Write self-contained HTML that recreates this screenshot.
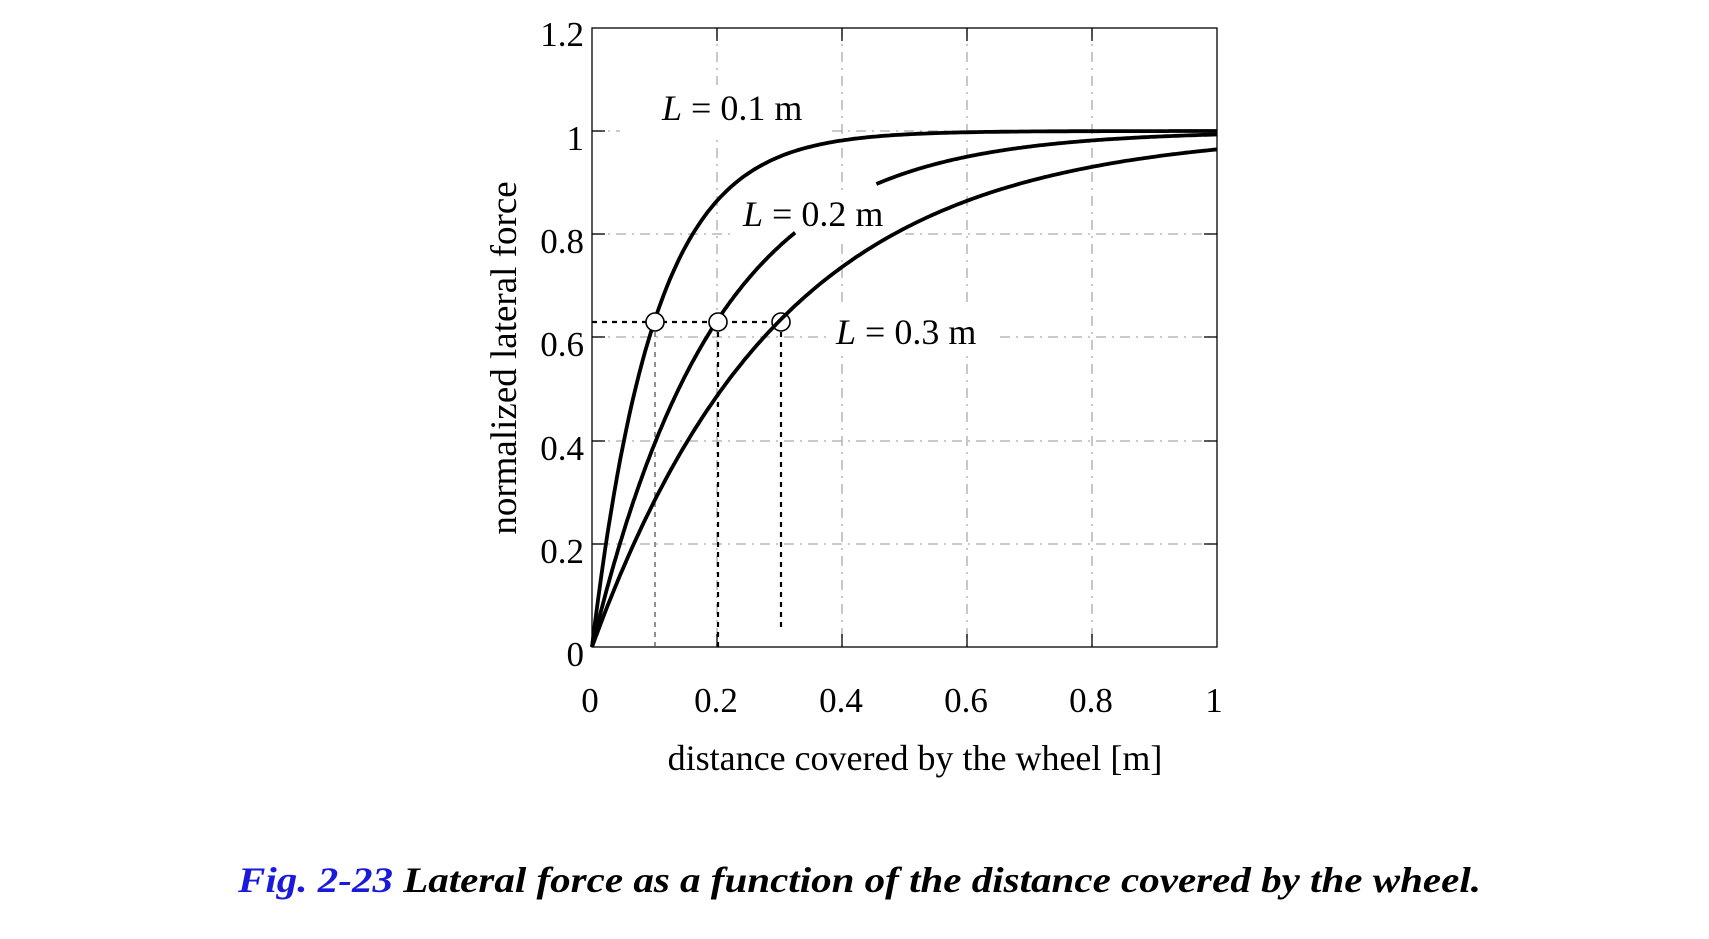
<!DOCTYPE html>
<html><head><meta charset="utf-8"><style>
html,body{margin:0;padding:0;background:#fff;width:1709px;height:939px;overflow:hidden}
svg{display:block}
text{font-family:"Liberation Serif",serif;fill:#000}
</style></head><body>
<svg id="s" width="1709" height="939" viewBox="0 0 1709 939" xmlns="http://www.w3.org/2000/svg">
<g id="grid" stroke="#aaa" stroke-width="1.3" stroke-dasharray="10,6,2,6" fill="none">
<line x1="717" y1="28" x2="717" y2="647"/>
<line x1="842" y1="28" x2="842" y2="647"/>
<line x1="967" y1="28" x2="967" y2="647"/>
<line x1="1092" y1="28" x2="1092" y2="647"/>
<line x1="592" y1="131" x2="1217" y2="131"/>
<line x1="592" y1="234" x2="1217" y2="234"/>
<line x1="592" y1="337" x2="1217" y2="337"/>
<line x1="592" y1="441" x2="1217" y2="441"/>
<line x1="592" y1="544" x2="1217" y2="544"/>
</g>
<rect x="620" y="85" width="210" height="50" fill="#fff"/>
<rect x="735" y="190" width="170" height="50" fill="#fff"/>
<rect x="830" y="305" width="170" height="45" fill="#fff"/>
<g stroke="#000" stroke-width="1.3">
<rect x="592" y="28" width="625" height="619" fill="none"/>
<line x1="592" y1="131" x2="605" y2="131"/><line x1="1204" y1="131" x2="1217" y2="131"/>
<line x1="592" y1="234" x2="605" y2="234"/><line x1="1204" y1="234" x2="1217" y2="234"/>
<line x1="592" y1="337" x2="605" y2="337"/><line x1="1204" y1="337" x2="1217" y2="337"/>
<line x1="592" y1="441" x2="605" y2="441"/><line x1="1204" y1="441" x2="1217" y2="441"/>
<line x1="592" y1="544" x2="605" y2="544"/><line x1="1204" y1="544" x2="1217" y2="544"/>
<line x1="717" y1="28" x2="717" y2="41"/><line x1="717" y1="634" x2="717" y2="647"/>
<line x1="842" y1="28" x2="842" y2="41"/><line x1="842" y1="634" x2="842" y2="647"/>
<line x1="967" y1="28" x2="967" y2="41"/><line x1="967" y1="634" x2="967" y2="647"/>
<line x1="1092" y1="28" x2="1092" y2="41"/><line x1="1092" y1="634" x2="1092" y2="647"/>
</g>
<g stroke="#000" stroke-width="2.2" stroke-dasharray="5,5" fill="none">
<line x1="592" y1="322" x2="781" y2="322"/>
<line x1="655" y1="322" x2="655" y2="647" stroke-width="1.3" stroke="#555"/>
<line x1="718" y1="322" x2="718" y2="650"/>
<line x1="781" y1="322" x2="781" y2="628"/>
</g>
<circle cx="781" cy="322" r="9" fill="#fff" stroke="#000" stroke-width="1.6"/>
<g id="curves" fill="none" stroke="#000" stroke-width="3.8"></g>
<g fill="#fff" stroke="#000" stroke-width="1.6">
<circle cx="655" cy="322" r="9"/><circle cx="718" cy="322" r="9"/>
</g>
<g font-size="36">
<text x="662" y="120"><tspan font-style="italic">L</tspan> = 0.1 m</text>
<text x="743" y="226"><tspan font-style="italic">L</tspan> = 0.2 m</text>
<text x="836" y="344"><tspan font-style="italic">L</tspan> = 0.3 m</text>
</g>
<g font-size="35" text-anchor="end">
<text x="584" y="46">1.2</text><text x="584" y="150">1</text><text x="584" y="253">0.8</text>
<text x="584" y="356">0.6</text><text x="584" y="460">0.4</text><text x="584" y="563">0.2</text>
<text x="584" y="666">0</text>
</g>
<g font-size="35" text-anchor="middle">
<text x="590" y="712">0</text><text x="716" y="712">0.2</text><text x="841" y="712">0.4</text>
<text x="966" y="712">0.6</text><text x="1091" y="712">0.8</text><text x="1214" y="712">1</text>
</g>
<text x="915" y="770" font-size="36" text-anchor="middle">distance covered by the wheel [m]</text>
<text transform="translate(516,358) rotate(-90)" font-size="37" text-anchor="middle">normalized lateral force</text>
<text x="238" y="892" font-size="36" font-weight="bold" font-style="italic" textLength="1243" lengthAdjust="spacingAndGlyphs"><tspan fill="#1a1adc">Fig. 2-23</tspan> Lateral force as a function of the distance covered by the wheel.</text>
</svg>
<script>
(function(){
var g=document.getElementById('curves');
function X(x){return 592+625*x;}function Y(y){return 647-516*y;}
function path(L,a,b){var d='';for(var i=0;i<=200;i++){var x=a+(b-a)*i/200;d+=(i?'L':'M')+X(x).toFixed(1)+' '+Y(1-Math.exp(-x/L)).toFixed(1);}
var p=document.createElementNS('http://www.w3.org/2000/svg','path');p.setAttribute('d',d);g.appendChild(p);}
path(0.1,0,1);path(0.2,0,0.325);path(0.2,0.455,1);path(0.3,0,1);
})();
</script>
</body></html>
